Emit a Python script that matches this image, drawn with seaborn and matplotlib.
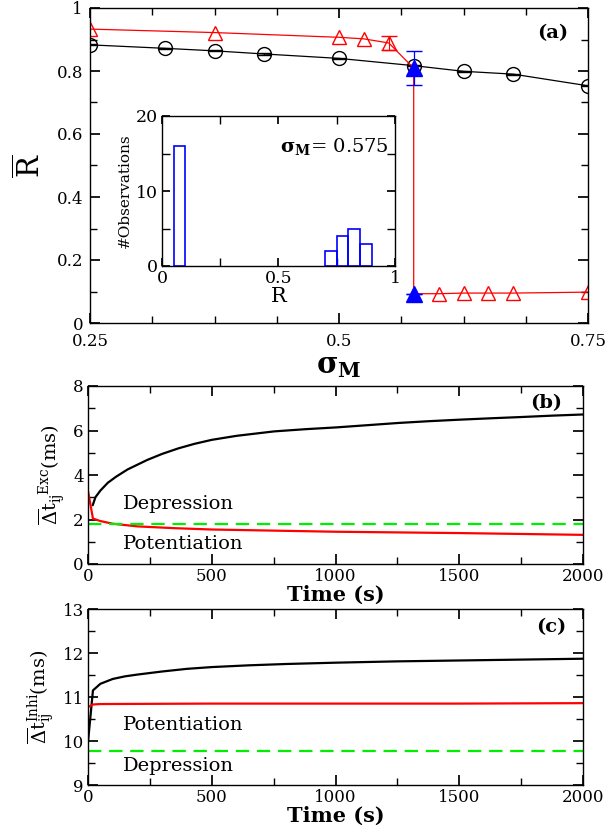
import numpy as np
import pandas as pd
import matplotlib
matplotlib.use("Agg")
import matplotlib.pyplot as plt
from matplotlib.ticker import MultipleLocator, FixedLocator, FuncFormatter
import seaborn as sns

# ---------------- data ----------------
# panel (a): black circles
sigma_black = [0.25, 0.325, 0.375, 0.425, 0.5, 0.575, 0.625, 0.675, 0.75]
R_black = [0.883, 0.872, 0.864, 0.854, 0.840, 0.817, 0.799, 0.790, 0.753]
# panel (a): red triangles (line passes through blue points at 0.575)
sigma_red = [0.25, 0.375, 0.5, 0.525, 0.55, 0.575, 0.575, 0.6, 0.625, 0.65, 0.675, 0.75]
R_red = [0.933, 0.922, 0.907, 0.902, 0.889, 0.809, 0.093, 0.093, 0.095, 0.095, 0.095, 0.098]
err_red_sigma = [0.55]
err_red_R = [0.889]
err_red = [0.022]
# blue filled triangles
sigma_blue = [0.575, 0.575]
R_blue = [0.809, 0.093]
err_blue = [0.054, 0.0]

# inset histogram
hist_centers_a = [0.075]
hist_counts_a = [16]
hist_edges_a = [0.05, 0.10]
hist_centers_b = [0.725, 0.775, 0.825, 0.875]
hist_counts_b = [2, 4, 5, 3]
hist_edges_b = [0.70, 0.75, 0.80, 0.85, 0.90]

# panel (b)
tb_black = [19, 30, 50, 80, 113, 160, 240, 300, 366, 430, 500, 600, 752, 880, 1004, 1130, 1256, 1380, 1508, 1630, 1760, 1880, 2000]
yb_black = [2.64, 3.0, 3.3, 3.65, 3.92, 4.25, 4.68, 4.95, 5.2, 5.4, 5.58, 5.76, 5.96, 6.06, 6.14, 6.24, 6.34, 6.42, 6.49, 6.55, 6.61, 6.67, 6.72]
tb_red = [0, 20, 50, 100, 200, 350, 500, 750, 1000, 1250, 1500, 1750, 2000]
yb_red = [3.28, 2.04, 1.93, 1.81, 1.69, 1.61, 1.55, 1.50, 1.45, 1.42, 1.39, 1.35, 1.31]
yb_green = 1.78

# panel (c)
tc_black = [0, 20, 50, 100, 150, 200, 300, 400, 500, 650, 800, 1000, 1250, 1500, 1750, 2000]
yc_black = [9.98, 11.15, 11.30, 11.41, 11.47, 11.51, 11.58, 11.64, 11.68, 11.72, 11.75, 11.78, 11.81, 11.83, 11.85, 11.87]
tc_red = [0, 20, 50, 500, 1000, 1500, 2000]
yc_red = [10.77, 10.83, 10.84, 10.85, 10.85, 10.85, 10.86]
yc_green = 9.78

# ---------------- style ----------------
sns.set_theme(style="ticks")
plt.rcParams.update({
    "font.family": ["DejaVu Serif"],
    "mathtext.fontset": "dejavuserif",
    "axes.linewidth": 1.0,
    "axes.edgecolor": "black",
    "xtick.direction": "in",
    "ytick.direction": "in",
    "xtick.top": True,
    "ytick.right": True,
    "xtick.major.size": 7,
    "ytick.major.size": 7,
    "xtick.minor.size": 5,
    "ytick.minor.size": 5,
    "xtick.color": "black",
    "ytick.color": "black",
    "text.color": "black",
    "axes.labelcolor": "black",
})

W, H = 610, 832
fig = plt.figure(figsize=(W / 100, H / 100), dpi=100)


def rect(l, t, r, b):
    return [l / W, 1 - b / H, (r - l) / W, (b - t) / H]


axa = fig.add_axes(rect(90, 8, 588, 323))
axb = fig.add_axes(rect(88, 386, 583, 564))
axc = fig.add_axes(rect(88, 609, 583, 785))
axi = fig.add_axes(rect(162, 116, 395, 266))

fmt = FuncFormatter(lambda v, _: f"{v:g}")
TICK = 12

# ----- panel (a) -----
sns.lineplot(x=sigma_black, y=R_black, ax=axa, color="black", lw=0.9,
             estimator=None, sort=False, marker="o", markersize=10,
             markerfacecolor="none", markeredgecolor="black", markeredgewidth=1.0)
axa.errorbar(sigma_black, R_black, yerr=0.002, fmt="none", ecolor="black",
             elinewidth=0.8, capsize=5, capthick=1.0)
sns.lineplot(x=sigma_red, y=R_red, ax=axa, color="red", lw=0.9,
             estimator=None, sort=False)
red_mask = [i for i in range(len(sigma_red)) if not (sigma_red[i] == 0.575)]
axa.plot([sigma_red[i] for i in red_mask], [R_red[i] for i in red_mask],
         ls="none", marker="^", markersize=10, markerfacecolor="none",
         markeredgecolor="red", markeredgewidth=1.0)
axa.errorbar(err_red_sigma, err_red_R, yerr=err_red, fmt="none", ecolor="red",
             elinewidth=0.8, capsize=6, capthick=1.0)
axa.errorbar(sigma_blue, R_blue, yerr=err_blue, fmt="^", color="blue",
             markersize=12, elinewidth=0.9, capsize=6, capthick=1.0, zorder=5)
axa.set_xlim(0.25, 0.75)
axa.set_ylim(0, 1)
axa.xaxis.set_major_locator(FixedLocator([0.25, 0.5, 0.75]))
axa.xaxis.set_minor_locator(MultipleLocator(0.0625))
axa.yaxis.set_major_locator(FixedLocator([0, 0.2, 0.4, 0.6, 0.8, 1.0]))
axa.yaxis.set_minor_locator(MultipleLocator(0.1))
axa.xaxis.set_major_formatter(fmt)
axa.yaxis.set_major_formatter(fmt)
axa.tick_params(labelsize=TICK)
axa.tick_params(axis="x", pad=7.5)
axa.tick_params(axis="y", pad=5)
axa.tick_params(which="both", top=True, right=True)
axa.set_xlabel(r"$\mathbf{\sigma_M}$", fontsize=21, labelpad=1)
axa.set_ylabel(r"$\overline{\mathrm{R}}$", fontsize=21, labelpad=7)
axa.text(0.93, 0.92, "(a)", transform=axa.transAxes, fontsize=14,
         fontweight="bold", ha="center", va="center")

# ----- inset -----
sns.histplot(x=hist_centers_a, weights=hist_counts_a, bins=hist_edges_a, ax=axi,
             fill=False, color="blue", linewidth=1.2, element="bars")
sns.histplot(x=hist_centers_b, weights=hist_counts_b, bins=hist_edges_b, ax=axi,
             fill=False, color="blue", linewidth=1.2, element="bars")
axi.set_xlim(0, 1)
axi.set_ylim(0, 20)
axi.xaxis.set_major_locator(FixedLocator([0, 0.5, 1]))
axi.xaxis.set_minor_locator(FixedLocator([0.25, 0.75]))
axi.yaxis.set_major_locator(FixedLocator([0, 10, 20]))
axi.yaxis.set_minor_locator(FixedLocator([5, 15]))
axi.xaxis.set_major_formatter(fmt)
axi.yaxis.set_major_formatter(fmt)
axi.tick_params(labelsize=12.5)
axi.tick_params(axis="x", pad=3)
axi.tick_params(axis="y", pad=3)
axi.tick_params(which="both", top=True, right=True, length=6)
axi.set_xlabel("R", fontsize=15, labelpad=0)
axi.set_ylabel("#Observations", fontsize=11, labelpad=3)
axi.text(0.74, 0.795, r"$\mathbf{\sigma_M}$= 0.575", transform=axi.transAxes,
         fontsize=14, ha="center", va="center")

# ----- panel (b) -----
sns.lineplot(x=tb_black, y=yb_black, ax=axb, color="black", lw=1.6,
             estimator=None, sort=False)
sns.lineplot(x=tb_red, y=yb_red, ax=axb, color="red", lw=1.6,
             estimator=None, sort=False)
axb.axhline(yb_green, color="#00ee00", lw=1.6, ls=(0, (6, 3.5)))
axb.set_xlim(0, 2000)
axb.set_ylim(0, 8)
axb.xaxis.set_major_locator(MultipleLocator(500))
axb.xaxis.set_minor_locator(MultipleLocator(250))
axb.yaxis.set_major_locator(MultipleLocator(2))
axb.yaxis.set_minor_locator(MultipleLocator(1))
axb.tick_params(labelsize=TICK, pad=3)
axb.tick_params(which="both", top=True, right=True)
axb.set_xlabel("Time (s)", fontsize=15, fontweight="bold", labelpad=0)
axb.set_ylabel(r"$\overline{\Delta}\mathrm{t}_{\mathrm{ij}}^{\ \ \mathrm{Exc}}$(ms)",
               fontsize=14, labelpad=4)
axb.text(142, 2.7, "Depression", fontsize=14, ha="left", va="center")
axb.text(142, 0.9, "Potentiation", fontsize=14, ha="left", va="center")
axb.text(1850, 7.25, "(b)", fontsize=14, fontweight="bold", ha="center", va="center")

# ----- panel (c) -----
sns.lineplot(x=tc_black, y=yc_black, ax=axc, color="black", lw=1.6,
             estimator=None, sort=False)
sns.lineplot(x=tc_red, y=yc_red, ax=axc, color="red", lw=1.6,
             estimator=None, sort=False)
axc.axhline(yc_green, color="#00ee00", lw=1.6, ls=(0, (6, 3.5)))
axc.set_xlim(0, 2000)
axc.set_ylim(9, 13)
axc.xaxis.set_major_locator(MultipleLocator(500))
axc.xaxis.set_minor_locator(MultipleLocator(250))
axc.yaxis.set_major_locator(MultipleLocator(1))
axc.yaxis.set_minor_locator(MultipleLocator(0.5))
axc.tick_params(labelsize=TICK, pad=3)
axc.tick_params(which="both", top=True, right=True)
axc.set_xlabel("Time (s)", fontsize=15, fontweight="bold", labelpad=0)
axc.set_ylabel(r"$\overline{\Delta}\mathrm{t}_{\mathrm{ij}}^{\mathrm{Inhi}}$(ms)",
               fontsize=14, labelpad=4)
axc.text(142, 10.36, "Potentiation", fontsize=14, ha="left", va="center")
axc.text(142, 9.44, "Depression", fontsize=14, ha="left", va="center")
axc.text(1870, 12.58, "(c)", fontsize=14, fontweight="bold", ha="center", va="center")

fig.savefig("out.png", dpi=100)
